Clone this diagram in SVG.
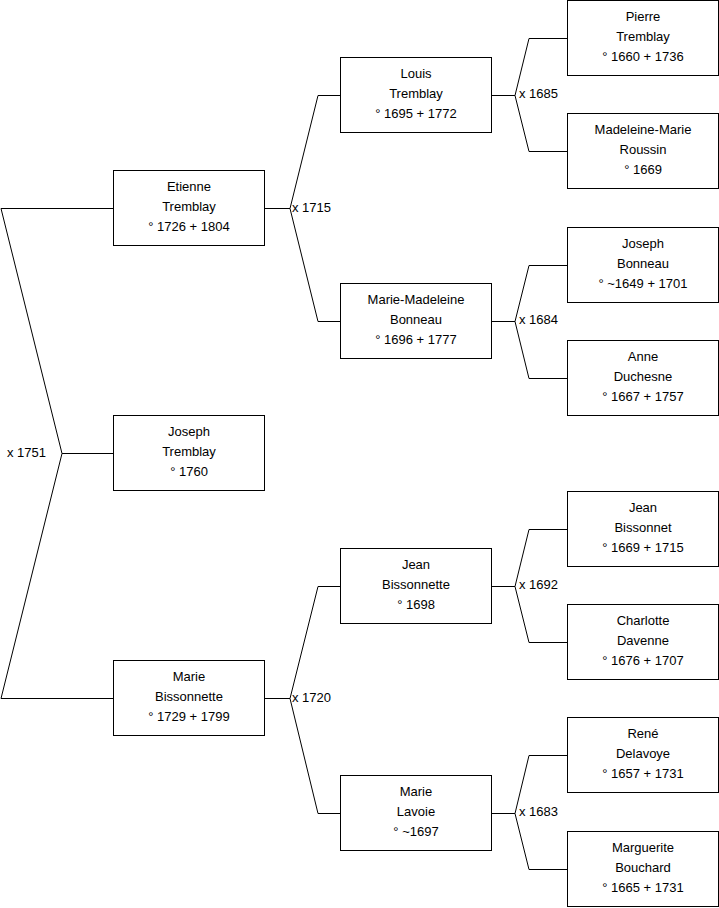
<svg xmlns="http://www.w3.org/2000/svg" width="719" height="908" viewBox="0 0 719 908">
<style>
.box{fill:#fff;stroke:#000;stroke-width:1}
.t{font-family:"Liberation Sans",Arial,sans-serif;font-size:13px;fill:#000;text-anchor:middle}
.lbl{font-family:"Liberation Sans",Arial,sans-serif;font-size:13px;fill:#000}
.c{fill:none;stroke:#000;stroke-width:1}
</style>
<rect width="719" height="908" fill="#fff"/>
<g id="connectors">
<path class="c" d="M114 208.5 H1 L62 453.5 L1 698.5 H114 M62 453.5 H114"/>
<path class="c" d="M264.5 208.5 H290 M318 95.5 L290 208.5 L318 321.5 M318 95.5 H341 M318 321.5 H341"/>
<path class="c" d="M264.5 698.5 H290 M318 586.5 L290 698.5 L318 813.5 M318 586.5 H341 M318 813.5 H341"/>
<path class="c" d="M491.5 95.5 H515 M529 38.5 L515 95.5 L529 151.5 M529 38.5 H567 M529 151.5 H567"/>
<path class="c" d="M491.5 321.5 H515 M529 265.5 L515 321.5 L529 378.5 M529 265.5 H567 M529 378.5 H567"/>
<path class="c" d="M491.5 586.5 H515 M529 529.5 L515 586.5 L529 642.5 M529 529.5 H567 M529 642.5 H567"/>
<path class="c" d="M491.5 813.5 H515 M529 755.5 L515 813.5 L529 869.5 M529 755.5 H567 M529 869.5 H567"/>
<text class="lbl" x="7" y="457">x 1751</text>
<text class="lbl" x="292" y="211.5">x 1715</text>
<text class="lbl" x="292" y="701.5">x 1720</text>
<text class="lbl" x="519" y="97.5">x 1685</text>
<text class="lbl" x="519" y="323.5">x 1684</text>
<text class="lbl" x="519" y="588.5">x 1692</text>
<text class="lbl" x="519" y="815.5">x 1683</text>
</g>
<g id="etienne"><rect class="box" x="113.5" y="170.5" width="151" height="75"/><text class="t" x="189" y="191">Etienne</text><text class="t" x="189" y="211">Tremblay</text><text class="t" x="189" y="231">° 1726 + 1804</text></g>
<g id="joseph"><rect class="box" x="113.5" y="415.5" width="151" height="75"/><text class="t" x="189" y="436">Joseph</text><text class="t" x="189" y="456">Tremblay</text><text class="t" x="189" y="476">° 1760</text></g>
<g id="marie"><rect class="box" x="113.5" y="660.5" width="151" height="75"/><text class="t" x="189" y="681">Marie</text><text class="t" x="189" y="701">Bissonnette</text><text class="t" x="189" y="721">° 1729 + 1799</text></g>
<g id="louis"><rect class="box" x="340.5" y="57.5" width="151" height="75"/><text class="t" x="416" y="78">Louis</text><text class="t" x="416" y="98">Tremblay</text><text class="t" x="416" y="118">° 1695 + 1772</text></g>
<g id="marie-madeleine"><rect class="box" x="340.5" y="283.5" width="151" height="75"/><text class="t" x="416" y="304">Marie-Madeleine</text><text class="t" x="416" y="324">Bonneau</text><text class="t" x="416" y="344">° 1696 + 1777</text></g>
<g id="jean-bissonnette"><rect class="box" x="340.5" y="548.5" width="151" height="75"/><text class="t" x="416" y="569">Jean</text><text class="t" x="416" y="589">Bissonnette</text><text class="t" x="416" y="609">° 1698</text></g>
<g id="marie-lavoie"><rect class="box" x="340.5" y="775.5" width="151" height="75"/><text class="t" x="416" y="796">Marie</text><text class="t" x="416" y="816">Lavoie</text><text class="t" x="416" y="836">° ~1697</text></g>
<g id="pierre"><rect class="box" x="567.5" y="0.5" width="151" height="75"/><text class="t" x="643" y="21">Pierre</text><text class="t" x="643" y="41">Tremblay</text><text class="t" x="643" y="61">° 1660 + 1736</text></g>
<g id="madeleine-marie"><rect class="box" x="567.5" y="113.5" width="151" height="75"/><text class="t" x="643" y="134">Madeleine-Marie</text><text class="t" x="643" y="154">Roussin</text><text class="t" x="643" y="174">° 1669</text></g>
<g id="joseph-bonneau"><rect class="box" x="567.5" y="227.5" width="151" height="75"/><text class="t" x="643" y="248">Joseph</text><text class="t" x="643" y="268">Bonneau</text><text class="t" x="643" y="288">° ~1649 + 1701</text></g>
<g id="anne"><rect class="box" x="567.5" y="340.5" width="151" height="75"/><text class="t" x="643" y="361">Anne</text><text class="t" x="643" y="381">Duchesne</text><text class="t" x="643" y="401">° 1667 + 1757</text></g>
<g id="jean-bissonnet"><rect class="box" x="567.5" y="491.5" width="151" height="75"/><text class="t" x="643" y="512">Jean</text><text class="t" x="643" y="532">Bissonnet</text><text class="t" x="643" y="552">° 1669 + 1715</text></g>
<g id="charlotte"><rect class="box" x="567.5" y="604.5" width="151" height="75"/><text class="t" x="643" y="625">Charlotte</text><text class="t" x="643" y="645">Davenne</text><text class="t" x="643" y="665">° 1676 + 1707</text></g>
<g id="rene"><rect class="box" x="567.5" y="717.5" width="151" height="75"/><text class="t" x="643" y="738">René</text><text class="t" x="643" y="758">Delavoye</text><text class="t" x="643" y="778">° 1657 + 1731</text></g>
<g id="marguerite"><rect class="box" x="567.5" y="831.5" width="151" height="75"/><text class="t" x="643" y="852">Marguerite</text><text class="t" x="643" y="872">Bouchard</text><text class="t" x="643" y="892">° 1665 + 1731</text></g>
</svg>
